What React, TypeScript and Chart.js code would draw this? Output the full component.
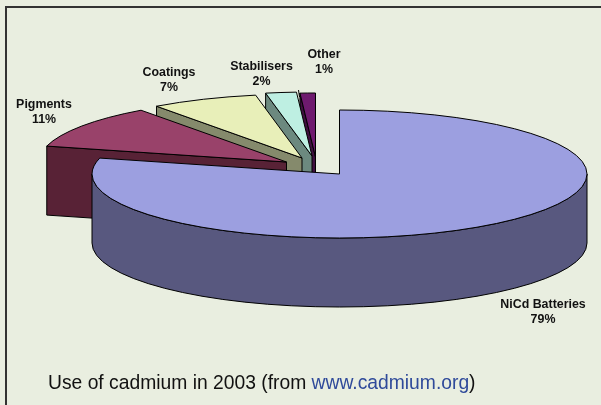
import React, { useEffect, useRef } from "react";
import { Chart, registerables } from "chart.js";

Chart.register(...registerables);

const categories = ["NiCd Batteries", "Pigments", "Coatings", "Stabilisers", "Other"];
const shares = [79, 11, 7, 2, 1];
const topColors = ["#9C9FE0", "#99426A", "#E8EFB9", "#BEEFE2", "#6E1A6E"];
const wallColors = ["#58587F", "#582236", "#858A6C", "#6C897F", "#3F0F3F"];
const explodeX = [0, -53, -37.5, -27.5, -24];
const explodeY = [0, -12, -16, -18, -17];
const labelX = [543, 44, 169, 261.5, 324];
const labelY = [305, 105, 73, 67, 55];

const RADIUS = 247.5;
const TILT = 64 / 247.5;
const DEPTH = 69;
const BACKGROUND = "#E9EEE0";
const LABEL_FONT = 'bold 12.4px "Liberation Sans", Arial, sans-serif';
const CAPTION_FONT = '19.3px "Liberation Sans", Arial, sans-serif';

function projected(cx: number, cy: number, a: number) {
  return { x: cx + RADIUS * Math.cos(a), y: cy + RADIUS * TILT * Math.sin(a) };
}

function drawShape(ctx: CanvasRenderingContext2D, path: () => void, fill: string) {
  ctx.beginPath();
  path();
  ctx.closePath();
  ctx.fillStyle = fill;
  ctx.fill();
  ctx.strokeStyle = "#000";
  ctx.lineWidth = 1;
  ctx.stroke();
}

const pie3d = {
  id: "pie3d",
  beforeDatasetsDraw(chart: any) {
    const ctx: CanvasRenderingContext2D = chart.ctx;
    const arcs = chart.getDatasetMeta(0).data;
    const order = arcs.map((_: any, i: number) => i).reverse();
    ctx.save();
    ctx.lineJoin = "round";
    for (const i of order) {
      const el = arcs[i];
      const { x, y, startAngle, endAngle } = el.getProps(["x", "y", "startAngle", "endAngle"], true);
      const cx = x + explodeX[i];
      const cy = y + explodeY[i];
      const ry = RADIUS * TILT;
      const radialWalls: number[] = [];
      if (Math.cos(startAngle) < -1e-6) radialWalls.push(startAngle);
      if (Math.cos(endAngle) > 1e-6) radialWalls.push(endAngle);
      for (const a of radialWalls) {
        const p = projected(cx, cy, a);
        drawShape(
          ctx,
          () => {
            ctx.moveTo(cx, cy);
            ctx.lineTo(p.x, p.y);
            ctx.lineTo(p.x, p.y + DEPTH);
            ctx.lineTo(cx, cy + DEPTH);
          },
          wallColors[i],
        );
      }
      const from = Math.max(startAngle, 0);
      const to = Math.min(endAngle, Math.PI);
      if (to > from) {
        drawShape(
          ctx,
          () => {
            ctx.ellipse(cx, cy, RADIUS, ry, 0, from, to);
            ctx.ellipse(cx, cy + DEPTH, RADIUS, ry, 0, to, from, true);
          },
          wallColors[i],
        );
      }
      drawShape(
        ctx,
        () => {
          ctx.moveTo(cx, cy);
          ctx.ellipse(cx, cy, RADIUS, ry, 0, startAngle, endAngle);
        },
        topColors[i],
      );
    }
    ctx.restore();
    return false;
  },
  afterDraw(chart: any) {
    const ctx: CanvasRenderingContext2D = chart.ctx;
    ctx.save();
    ctx.fillStyle = "#111";
    ctx.font = LABEL_FONT;
    ctx.textAlign = "center";
    ctx.textBaseline = "middle";
    categories.forEach((name, i) => {
      ctx.fillText(name, labelX[i], labelY[i]);
      ctx.fillText(`${shares[i]}%`, labelX[i], labelY[i] + 15);
    });
    ctx.strokeStyle = "#000";
    ctx.lineWidth = 1;
    ctx.beginPath();
    ctx.moveTo(298.5, 90);
    ctx.lineTo(299.5, 97);
    ctx.stroke();

    ctx.font = CAPTION_FONT;
    ctx.textAlign = "left";
    ctx.textBaseline = "alphabetic";
    const parts: [string, string][] = [
      ["Use of cadmium in 2003 (from ", "#111"],
      ["www.cadmium.org", "#2F4A9A"],
      [")", "#111"],
    ];
    let tx = 48;
    for (const [text, color] of parts) {
      ctx.fillStyle = color;
      ctx.fillText(text, tx, 389);
      tx += ctx.measureText(text).width;
    }
    ctx.restore();
  },
};

const frame = {
  id: "frame",
  beforeDraw(chart: any) {
    const ctx: CanvasRenderingContext2D = chart.ctx;
    ctx.save();
    ctx.fillStyle = BACKGROUND;
    ctx.fillRect(0, 0, chart.width, chart.height);
    ctx.strokeStyle = "#333";
    ctx.lineWidth = 2;
    ctx.beginPath();
    ctx.moveTo(6, 405);
    ctx.lineTo(6, 7);
    ctx.lineTo(601, 7);
    ctx.stroke();
    ctx.restore();
  },
};

export default function App() {
  const ref = useRef<HTMLCanvasElement>(null);
  useEffect(() => {
    const chart = new Chart(ref.current!, {
      type: "pie",
      data: {
        labels: categories,
        datasets: [{ data: shares, backgroundColor: topColors, borderWidth: 0 }],
      },
      options: {
        animation: false,
        responsive: false,
        radius: RADIUS,
        layout: { padding: { left: 78, right: 0, top: 0, bottom: 57 } },
        plugins: { legend: { display: false }, tooltip: { enabled: false } },
      } as any,
      plugins: [frame, pie3d],
    });
    return () => chart.destroy();
  }, []);
  return (
    <canvas
      ref={ref}
      width={601}
      height={405}
      style={{ position: "fixed", left: 0, top: 0, width: 601, height: 405, display: "block" }}
    />
  );
}
